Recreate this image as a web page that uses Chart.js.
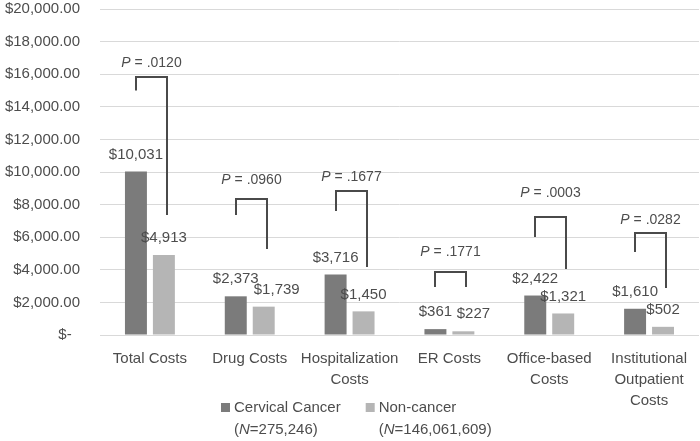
<!DOCTYPE html>
<html>
<head>
<meta charset="utf-8">
<script src="https://cdn.jsdelivr.net/npm/chart.js@4/dist/chart.umd.min.js"></script>
<style>
  html, body { margin: 0; padding: 0; background: #fff; }
  #wrap { width: 700px; height: 441px; }
</style>
</head>
<body>
<div id="wrap"><canvas id="cost-chart"></canvas></div>
<script>
var categories = [
  ['Total Costs'],
  ['Drug Costs'],
  ['Hospitalization', 'Costs'],
  ['ER Costs'],
  ['Office-based', 'Costs'],
  ['Institutional', 'Outpatient', 'Costs']
];
var cervicalCosts = [10031, 2373, 3716, 361, 2422, 1610];
var noncancerCosts = [4913, 1739, 1450, 227, 1321, 502];
var yTicks = [0, 2000, 4000, 6000, 8000, 10000, 12000, 14000, 16000, 18000, 20000];

// P value brackets (in $ units)
var pValues = ['.0120', '.0960', '.1677', '.1771', '.0003', '.0282'];
var pTop = [15800, 8350, 8830, 3850, 7240, 6260];
var pLeftEnd = [15000, 7360, 7600, 2950, 6010, 5090];
var pRightEnd = [7360, 5280, 4170, 2950, 4050, 2880];
var pTextAt = [16700, 9500, 9700, 5100, 8700, 7050];

var seriesNames = [
  ['Cervical Cancer', '275,246'],
  ['Non-cancer', '146,061,609']
];

var textColor = '#4d4d4d';
var fontFamily = '"Liberation Sans", Arial, sans-serif';

////Value labels over the bars////
var valueLabels = {
  id: 'valueLabels',
  afterDatasetsDraw: function(chart) {
    var ctx = chart.ctx;
    var shift = [[0, 0, 0, 0, 0, 0], [0, 13, 0, 10, 0, 0]];
    ctx.save();
    ctx.font = '15px ' + fontFamily;
    ctx.fillStyle = textColor;
    ctx.textAlign = 'center';
    ctx.textBaseline = 'middle';
    chart.data.datasets.forEach(function(ds, i) {
      var meta = chart.getDatasetMeta(i);
      meta.data.forEach(function(bar, j) {
        var txt = '$' + ds.data[j].toLocaleString('en-US');
        ctx.fillText(txt, bar.x + shift[i][j], bar.y - 17);
      });
    });
    ctx.restore();
  }
};

////P value brackets////
var brackets = {
  id: 'brackets',
  afterDatasetsDraw: function(chart) {
    var ctx = chart.ctx;
    var y = chart.scales.y;
    var dark = chart.getDatasetMeta(0).data;
    var light = chart.getDatasetMeta(1).data;
    ctx.save();
    ctx.strokeStyle = '#4a4a4a';
    ctx.lineWidth = 2;
    pValues.forEach(function(p, i) {
      var x1 = Math.round(dark[i].x);
      var x2 = Math.round(light[i].x) + 3;
      var top = Math.round(y.getPixelForValue(pTop[i]));
      ctx.beginPath();
      ctx.moveTo(x1, y.getPixelForValue(pLeftEnd[i]));
      ctx.lineTo(x1, top);
      ctx.lineTo(x2, top);
      ctx.lineTo(x2, y.getPixelForValue(pRightEnd[i]));
      ctx.stroke();

      // "P = .xxxx" with italic P
      var ty = y.getPixelForValue(pTextAt[i]);
      ctx.fillStyle = textColor;
      ctx.textBaseline = 'middle';
      ctx.textAlign = 'left';
      ctx.font = 'italic 14px ' + fontFamily;
      var wP = ctx.measureText('P').width;
      ctx.font = '14px ' + fontFamily;
      var rest = ' = ' + p;
      var wR = ctx.measureText(rest).width;
      var sx = (x1 + x2) / 2 - (wP + wR) / 2;
      ctx.font = 'italic 14px ' + fontFamily;
      ctx.fillText('P', sx, ty);
      ctx.font = '14px ' + fontFamily;
      ctx.fillText(rest, sx + wP, ty);
    });
    ctx.restore();
  }
};

////Legend with two lines per item////
var twoLineLegend = {
  id: 'twoLineLegend',
  afterDraw: function(chart) {
    var ctx = chart.ctx;
    var base = chart.chartArea.bottom;
    var x = 221;
    ctx.save();
    ctx.textBaseline = 'middle';
    ctx.textAlign = 'left';
    chart.data.datasets.forEach(function(ds, i) {
      var names = seriesNames[i];
      ctx.fillStyle = ds.backgroundColor;
      ctx.fillRect(x, base + 68, 9, 9);
      var tx = x + 13;
      ctx.fillStyle = textColor;
      ctx.font = '15px ' + fontFamily;
      ctx.fillText(names[0], tx, base + 73);
      var w1 = ctx.measureText(names[0]).width;
      // second line: (N=...)
      var lx = tx;
      ctx.fillText('(', lx, base + 95);
      lx += ctx.measureText('(').width;
      ctx.font = 'italic 15px ' + fontFamily;
      ctx.fillText('N', lx, base + 95);
      lx += ctx.measureText('N').width;
      ctx.font = '15px ' + fontFamily;
      var tail = '=' + names[1] + ')';
      ctx.fillText(tail, lx, base + 95);
      var w2 = lx + ctx.measureText(tail).width - tx;
      x = tx + Math.max(w1, w2) + 25;
    });
    ctx.restore();
  }
};

////Chart////
var ctxC = document.getElementById('cost-chart');

var data = {
  labels: categories,
  datasets: [
    {
      label: seriesNames[0][0],
      backgroundColor: '#7b7b7b',
      data: cervicalCosts
    },
    {
      label: seriesNames[1][0],
      backgroundColor: '#b5b5b5',
      data: noncancerCosts
    }
  ]
};

var costChart = new Chart(ctxC, {
  type: 'bar',
  data: data,
  plugins: [valueLabels, brackets, twoLineLegend],
  options: {
    responsive: true,
    maintainAspectRatio: false,
    animation: false,
    datasets: {
      bar: { categoryPercentage: 0.56, barPercentage: 0.786 }
    },
    layout: { padding: 0 },
    plugins: {
      legend: { display: false },
      tooltip: { enabled: false }
    },
    scales: {
      x: {
        grid: { display: false, drawTicks: false },
        border: { display: true, color: '#d9d9d9', width: 1 },
        ticks: {
          color: textColor,
          font: { family: fontFamily, size: 15, lineHeight: 1.4 },
          padding: 13,
          maxRotation: 0,
          minRotation: 0,
          autoSkip: false
        },
        afterFit: function(scale) { scale.height = 106; }
      },
      y: {
        min: yTicks[0],
        max: yTicks[yTicks.length - 1],
        afterBuildTicks: function(scale) {
          scale.ticks = yTicks.map(function(v) { return { value: v }; });
        },
        // invisible tick marks keep the labels 20px off the plot
        grid: { color: '#d9d9d9', lineWidth: 1, drawTicks: true, tickLength: 20, tickColor: 'rgba(0,0,0,0)' },
        border: { display: false },
        ticks: {
          color: textColor,
          font: { family: fontFamily, size: 15 },
          padding: 0,
          callback: function(v) {
            if (v === 0) return '$-  ';
            return '$' + v.toLocaleString('en-US', { minimumFractionDigits: 2, maximumFractionDigits: 2 });
          }
        },
        afterFit: function(scale) { scale.width = 100; }
      }
    }
  }
});
</script>
</body>
</html>
